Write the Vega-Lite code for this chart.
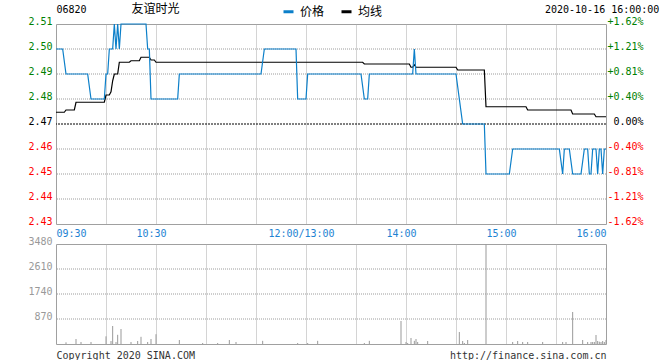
{
  "$schema": "https://vega.github.io/schema/vega-lite/v6.json",
  "padding": {"left": 27, "top": 1, "right": 0, "bottom": 0},
  "background": "white",
  "config": {
    "view": {"stroke": "#a0a0a0", "strokeWidth": 1},
    "font": "DejaVu Sans Mono",
    "axis": {
      "labelFont": "DejaVu Sans Mono",
      "labelFontSize": 10,
      "ticks": false,
      "domain": false,
      "grid": true,
      "gridColor": "#a8a8a8",
      "gridDash": [1, 1],
      "gridWidth": 1,
      "title": null,
      "labelOverlap": false,
      "labelBound": false
    }
  },
  "datasets": {
    "hgrid": [{"g": 2.44}, {"g": 2.45}, {"g": 2.46}, {"g": 2.48}, {"g": 2.49}, {"g": 2.50}],
    "vgrid": [{"g": 870}, {"g": 1740}, {"g": 2610}],
    "price": [
      {"t": 0, "p": 2.50}, {"t": 4, "p": 2.50}, {"t": 6, "p": 2.49}, {"t": 19, "p": 2.49},
      {"t": 21, "p": 2.48}, {"t": 29, "p": 2.48}, {"t": 30, "p": 2.49}, {"t": 31, "p": 2.49},
      {"t": 32, "p": 2.50}, {"t": 34, "p": 2.50}, {"t": 35, "p": 2.51}, {"t": 36, "p": 2.50},
      {"t": 37, "p": 2.51}, {"t": 38, "p": 2.50}, {"t": 39, "p": 2.51}, {"t": 54, "p": 2.51},
      {"t": 55, "p": 2.50}, {"t": 56, "p": 2.50}, {"t": 57, "p": 2.48}, {"t": 73, "p": 2.48},
      {"t": 74, "p": 2.49}, {"t": 123, "p": 2.49}, {"t": 125, "p": 2.50}, {"t": 144, "p": 2.50},
      {"t": 145, "p": 2.48}, {"t": 150, "p": 2.48}, {"t": 151, "p": 2.49}, {"t": 183, "p": 2.49},
      {"t": 185, "p": 2.48}, {"t": 187, "p": 2.48}, {"t": 188, "p": 2.49}, {"t": 214, "p": 2.49},
      {"t": 215, "p": 2.50}, {"t": 216, "p": 2.49}, {"t": 240, "p": 2.49}, {"t": 242, "p": 2.48},
      {"t": 244, "p": 2.47}, {"t": 257, "p": 2.47}, {"t": 258, "p": 2.45}, {"t": 272, "p": 2.45},
      {"t": 274, "p": 2.46}, {"t": 302, "p": 2.46}, {"t": 304, "p": 2.45}, {"t": 305, "p": 2.46},
      {"t": 308, "p": 2.46}, {"t": 310, "p": 2.45}, {"t": 315, "p": 2.45}, {"t": 317, "p": 2.46},
      {"t": 319, "p": 2.46}, {"t": 320, "p": 2.45}, {"t": 321, "p": 2.45}, {"t": 322, "p": 2.46},
      {"t": 324, "p": 2.46}, {"t": 325, "p": 2.45}, {"t": 326, "p": 2.46}, {"t": 327, "p": 2.46},
      {"t": 328, "p": 2.45}, {"t": 329, "p": 2.46}, {"t": 330, "p": 2.46}
    ],
    "avg": [
      {"t": 0, "a": 2.4747}, {"t": 5, "a": 2.4747}, {"t": 6, "a": 2.4756}, {"t": 11, "a": 2.4756},
      {"t": 12, "a": 2.4787}, {"t": 29, "a": 2.4787}, {"t": 30, "a": 2.4816}, {"t": 32, "a": 2.4816},
      {"t": 33, "a": 2.4829}, {"t": 34, "a": 2.4873}, {"t": 35, "a": 2.49}, {"t": 37, "a": 2.49},
      {"t": 38, "a": 2.4947}, {"t": 44, "a": 2.4947}, {"t": 45, "a": 2.4953}, {"t": 50, "a": 2.4953},
      {"t": 51, "a": 2.4967}, {"t": 56, "a": 2.4967}, {"t": 57, "a": 2.4956}, {"t": 59, "a": 2.4956},
      {"t": 60, "a": 2.4947}, {"t": 184, "a": 2.4947}, {"t": 185, "a": 2.494}, {"t": 212, "a": 2.494},
      {"t": 213, "a": 2.4927}, {"t": 214, "a": 2.4927}, {"t": 215, "a": 2.4937}, {"t": 216, "a": 2.4927},
      {"t": 240, "a": 2.4927}, {"t": 241, "a": 2.4916}, {"t": 257, "a": 2.4916}, {"t": 258, "a": 2.4769},
      {"t": 282, "a": 2.4769}, {"t": 283, "a": 2.4756}, {"t": 309, "a": 2.4756}, {"t": 310, "a": 2.474},
      {"t": 323, "a": 2.474}, {"t": 324, "a": 2.4729}, {"t": 330, "a": 2.4729}
    ],
    "vol": [
      {"t": 6, "v": 58}, {"t": 12, "v": 174}, {"t": 15, "v": 70}, {"t": 21, "v": 70},
      {"t": 30, "v": 267}, {"t": 33, "v": 104}, {"t": 34, "v": 626}, {"t": 36, "v": 70},
      {"t": 37, "v": 320}, {"t": 39, "v": 522}, {"t": 45, "v": 70}, {"t": 49, "v": 104},
      {"t": 51, "v": 250}, {"t": 55, "v": 70}, {"t": 57, "v": 174}, {"t": 60, "v": 340},
      {"t": 74, "v": 139}, {"t": 88, "v": 35}, {"t": 97, "v": 35}, {"t": 104, "v": 139},
      {"t": 108, "v": 70}, {"t": 124, "v": 110}, {"t": 145, "v": 35}, {"t": 151, "v": 35},
      {"t": 157, "v": 110}, {"t": 185, "v": 35}, {"t": 188, "v": 110}, {"t": 207, "v": 800},
      {"t": 210, "v": 70}, {"t": 211, "v": 35}, {"t": 213, "v": 209}, {"t": 215, "v": 110},
      {"t": 216, "v": 174}, {"t": 217, "v": 70}, {"t": 223, "v": 104}, {"t": 242, "v": 418},
      {"t": 244, "v": 104}, {"t": 245, "v": 35}, {"t": 247, "v": 139}, {"t": 258, "v": 3480},
      {"t": 274, "v": 70}, {"t": 277, "v": 104}, {"t": 280, "v": 70}, {"t": 283, "v": 70},
      {"t": 292, "v": 70}, {"t": 304, "v": 70}, {"t": 306, "v": 70}, {"t": 310, "v": 1114},
      {"t": 316, "v": 139}, {"t": 319, "v": 70}, {"t": 321, "v": 70}, {"t": 322, "v": 70},
      {"t": 323, "v": 70}, {"t": 324, "v": 313}, {"t": 325, "v": 104}, {"t": 326, "v": 80},
      {"t": 327, "v": 70}, {"t": 328, "v": 104}, {"t": 329, "v": 70}, {"t": 330, "v": 139}
    ]
  },
  "spacing": 20,
  "bounds": "flush",
  "vconcat": [
    {
      "width": 550,
      "height": 200,
      "layer": [
        {
          "layer": [
            {
              "data": {"name": "hgrid"},
              "mark": {"type": "rule", "color": "#9c9c9c", "strokeDash": [1, 1], "strokeWidth": 1},
              "encoding": {
                "y": {
                  "field": "g", "type": "quantitative",
                  "scale": {"domain": [2.43, 2.51], "nice": false, "zero": false},
                  "axis": {
                    "orient": "left",
                    "grid": false,
                    "values": [2.43, 2.44, 2.45, 2.46, 2.47, 2.48, 2.49, 2.5, 2.51],
                    "format": ".2f",
                    "labelPadding": 4,
                    "labelBaseline": "alphabetic",
                    "labelOverlap": false,
                    "labelFlush": false,
                    "labelColor": {"condition": [{"test": "datum.value > 2.475", "value": "#008000"}, {"test": "datum.value < 2.465", "value": "#ff0000"}], "value": "#000000"}
                  }
                }
              }
            },
            {
              "data": {"name": "avg"},
              "mark": {"type": "line", "strokeWidth": 1.2},
              "encoding": {
                "x": {
                  "field": "t", "type": "quantitative",
                  "scale": {"domain": [0, 330], "nice": false, "zero": false},
                  "axis": {
                    "orient": "bottom",
                    "values": [0, 30, 60, 90, 120, 150, 180, 210, 240, 270, 300, 330],
                    "labelExpr": "datum.value == 0 ? '09:30' : datum.value == 60 ? '10:30' : datum.value == 150 ? '12:00/13:00' : datum.value == 210 ? '14:00' : datum.value == 270 ? '15:00' : datum.value == 330 ? '16:00' : ''",
                    "labelColor": "#1e82d2",
                    "labelPadding": 4,
                    "labelBaseline": "top",
                    "labelOverlap": false,
                    "labelFlush": true,
                    "labelOffset": {"condition": {"test": "datum.value > 0 && datum.value < 330", "value": -5}, "value": 0},
                    "gridOpacity": {"condition": {"test": "datum.value == 0 || datum.value == 330", "value": 0}, "value": 1}
                  }
                },
                "y": {
                  "field": "a", "type": "quantitative",
                  "scale": {"domain": [2.43, 2.51], "nice": false, "zero": false},
                  "axis": {
                    "orient": "left",
                    "grid": false,
                    "values": [2.43, 2.44, 2.45, 2.46, 2.47, 2.48, 2.49, 2.5, 2.51],
                    "format": ".2f",
                    "labelPadding": 4,
                    "labelBaseline": "alphabetic",
                    "labelOverlap": false,
                    "labelFlush": false,
                    "labelColor": {"condition": [{"test": "datum.value > 2.475", "value": "#008000"}, {"test": "datum.value < 2.465", "value": "#ff0000"}], "value": "#000000"}
                  }
                },
                "color": {
                  "datum": "均线",
                  "scale": {"domain": ["价格", "均线"], "range": ["#0b7fc9", "#000000"]},
                  "legend": {
                    "orient": "none",
                    "legendX": 226,
                    "legendY": -19,
                    "direction": "horizontal",
                    "title": null,
                    "symbolType": "stroke",
                    "symbolStrokeWidth": 3,
                    "symbolSize": 100,
                    "labelFont": "Noto Sans CJK SC",
                    "labelFontSize": 12,
                    "labelOffset": 5,
                    "columnPadding": 10,
                    "padding": 0,
                    "labelColor": {"condition": {"test": "datum.label == '价格'", "value": "#0b7fc9"}, "value": "#000000"}
                  }
                }
              }
            },
            {
              "data": {"values": [{}]},
              "mark": {"type": "rule", "color": "#000000", "strokeDash": [2, 1], "strokeWidth": 1},
              "encoding": {
                "y": {
                  "datum": 2.47, "type": "quantitative",
                  "scale": {"domain": [2.43, 2.51], "nice": false, "zero": false},
                  "axis": {
                    "orient": "left",
                    "grid": false,
                    "values": [2.43, 2.44, 2.45, 2.46, 2.47, 2.48, 2.49, 2.5, 2.51],
                    "format": ".2f",
                    "labelPadding": 4,
                    "labelBaseline": "alphabetic",
                    "labelOverlap": false,
                    "labelFlush": false,
                    "labelColor": {"condition": [{"test": "datum.value > 2.475", "value": "#008000"}, {"test": "datum.value < 2.465", "value": "#ff0000"}], "value": "#000000"}
                  }
                }
              }
            }
          ]
        },
        {
          "data": {"name": "price"},
          "mark": {"type": "line", "strokeWidth": 1.2},
          "encoding": {
            "x": {
              "field": "t", "type": "quantitative",
              "axis": {
                "orient": "top",
                "grid": false,
                "values": [0, 59.4, 327.4],
                "labelExpr": "datum.value == 0 ? '06820' : datum.value < 100 ? '友谊时光' : '2020-10-16 16:00:00'",
                "labelColor": "#000000",
                "labelPadding": 12,
                "labelBaseline": "alphabetic",
                "labelOverlap": false,
                "labelFlush": true,
                "labelFont": {"condition": {"test": "datum.value > 50 && datum.value < 100", "value": "Noto Sans CJK SC"}, "value": "DejaVu Sans Mono"},
                "labelFontSize": {"condition": {"test": "datum.value > 50 && datum.value < 100", "value": 12}, "value": 10}
              }
            },
            "y": {
              "field": "p", "type": "quantitative",
              "scale": {"domain": [2.43, 2.51], "nice": false, "zero": false},
              "axis": {
                "orient": "right",
                "grid": false,
                "values": [2.43, 2.44, 2.45, 2.46, 2.47, 2.48, 2.49, 2.5, 2.51],
                "labelExpr": "abs(datum.value - 2.47) < 0.0005 ? '0.00%' : (datum.value > 2.47 ? '+' : '-') + format(abs(datum.value - 2.47) / 2.47 * 100, '.2f') + '%'",
                "labelAlign": "right",
                "labelPadding": 37,
                "labelBaseline": "alphabetic",
                "labelOverlap": false,
                "labelFlush": false,
                "labelColor": {"condition": [{"test": "datum.value > 2.475", "value": "#008000"}, {"test": "datum.value < 2.465", "value": "#ff0000"}], "value": "#000000"}
              }
            },
            "color": {
              "datum": "价格",
              "scale": {"domain": ["价格", "均线"], "range": ["#0b7fc9", "#000000"]}
            }
          }
        }
      ],
      "resolve": {"scale": {"y": "independent"}, "axis": {"x": "independent", "y": "independent"}}
    },
    {
      "width": 550,
      "height": 100,
      "layer": [
        {
          "data": {"name": "vgrid"},
          "mark": {"type": "rule", "color": "#9c9c9c", "strokeDash": [1, 1], "strokeWidth": 1},
          "encoding": {
            "y": {
              "field": "g", "type": "quantitative",
              "scale": {"domain": [0, 3480], "nice": false, "zero": true},
              "axis": {
                "orient": "left",
                "grid": false,
                "values": [870, 1740, 2610, 3480],
                "format": "d",
                "labelColor": "#999999",
                "labelPadding": 4,
                "labelBaseline": "alphabetic",
                "labelOverlap": false,
                "labelFlush": false
              }
            }
          }
        },
        {
          "data": {"name": "vol"},
          "mark": {"type": "rule", "color": "#999999", "strokeWidth": 1},
          "encoding": {
            "x": {
              "field": "t", "type": "quantitative",
              "scale": {"domain": [0, 330], "nice": false, "zero": false},
              "axis": {
                "orient": "bottom",
                "values": [0, 30, 60, 90, 120, 150, 180, 210, 240, 270, 300, 330],
                "labelExpr": "datum.value == 0 ? 'Copyright 2020 SINA.COM' : datum.value == 330 ? 'http://finance.sina.com.cn' : ''",
                "labelColor": "#333333",
                "labelPadding": 6,
                "labelBaseline": "top",
                "labelOverlap": false,
                "labelFlush": true,
                "gridOpacity": {"condition": {"test": "datum.value == 0 || datum.value == 330", "value": 0}, "value": 1}
              }
            },
            "y": {
              "field": "v", "type": "quantitative",
              "scale": {"domain": [0, 3480], "nice": false, "zero": true},
              "axis": {
                "orient": "left",
                "grid": false,
                "values": [870, 1740, 2610, 3480],
                "format": "d",
                "labelColor": "#999999",
                "labelPadding": 4,
                "labelBaseline": "alphabetic",
                "labelOverlap": false,
                "labelFlush": false
              }
            },
            "y2": {"datum": 0}
          }
        }
      ]
    }
  ]
}
